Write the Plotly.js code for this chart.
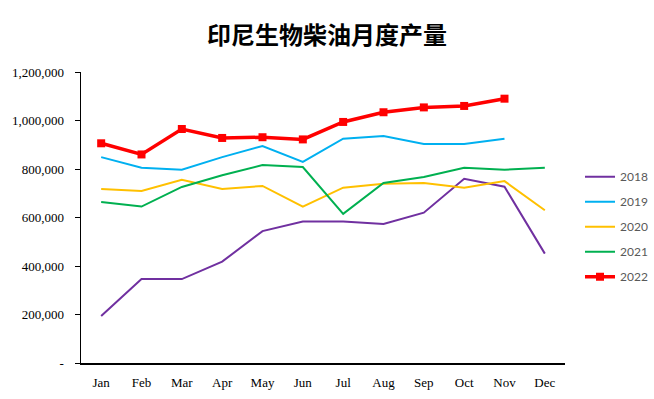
<!DOCTYPE html>
<html><head><meta charset="utf-8">
<script src="https://cdn.plot.ly/plotly-3.0.1.min.js"></script>
<style>body{margin:0;background:#fff}#c{width:654px;height:399px}</style>
</head><body><div id="c"></div>
<script>
const months = ["Jan","Feb","Mar","Apr","May","Jun","Jul","Aug","Sep","Oct","Nov","Dec"];
const y2018 = [194000,346000,346000,418000,544000,583000,584000,573000,620000,760000,727000,451000];
const y2019 = [849000,805000,797000,849000,895000,829000,925000,936000,903000,903000,925000];
const y2020 = [718000,709000,756000,718000,730000,645000,723000,739000,742000,723000,750000,630000];
const y2021 = [664000,645000,726000,774000,816000,808000,615000,742000,767000,805000,797000,805000];
const y2022 = [906000,860000,965000,928000,931000,922000,994000,1034000,1054000,1060000,1090000];
const yTickVals = [0,200000,400000,600000,800000,1000000,1200000];
const yTickText = ["-","200,000","400,000","600,000","800,000","1,000,000","1,200,000"];

function line(name, y, color, w, grp){
  return {type:"scatter", mode:"lines", name:name, x:months.slice(0,y.length), y:y,
    line:{color:color, width:w}, legendgroup:grp};
}
const traces = [
  line("2018", y2018, "#7030A0", 2, "a"),
  line("2019", y2019, "#00B0F0", 2, "b"),
  line("2020", y2020, "#FFC000", 2, "c"),
  line("2021", y2021, "#00B050", 2, "d"),
  {type:"scatter", mode:"lines+markers", name:"2022", x:months.slice(0,y2022.length), y:y2022,
   line:{color:"#FF0000", width:3.5}, marker:{symbol:"square", size:8, color:"#FF0000"}, legendgroup:"e"}
];
const layout = {
  width:654, height:399,
  margin:{l:81, r:89, t:72, b:36, autoexpand:false},
  paper_bgcolor:"#fff", plot_bgcolor:"#fff",
  title:{text:"印尼生物柴油月度产量", x:0.5, xanchor:"center", y:0.912, yanchor:"middle",
    font:{family:"Noto Sans CJK SC", size:24, color:"#000", weight:"bold"}},
  xaxis:{type:"category", categoryorder:"array", categoryarray:months, range:[-0.5,11.5],
    showline:true, linecolor:"#000", linewidth:1.5, showgrid:false, zeroline:false, ticks:"",
    ticklabelstandoff:7,
    tickfont:{family:"Liberation Serif", size:13, color:"#000"}},
  yaxis:{range:[0,1200000], tickvals:yTickVals, ticktext:yTickText, showline:true, linecolor:"#000",
    linewidth:1.5, showgrid:false, zeroline:false, ticks:"outside", ticklen:5, tickcolor:"#000",
    ticklabelstandoff:8,
    tickfont:{family:"Liberation Serif", size:13, color:"#000"}},
  showlegend:true,
  legend:{x:1.031, xanchor:"left", y:0.69, yanchor:"top", tracegroupgap:6,
    font:{family:"Lato", size:12, color:"#595959"}, bgcolor:"rgba(0,0,0,0)", itemwidth:30}
};
Plotly.newPlot("c", traces, layout, {displayModeBar:false, staticPlot:true});
</script></body></html>
